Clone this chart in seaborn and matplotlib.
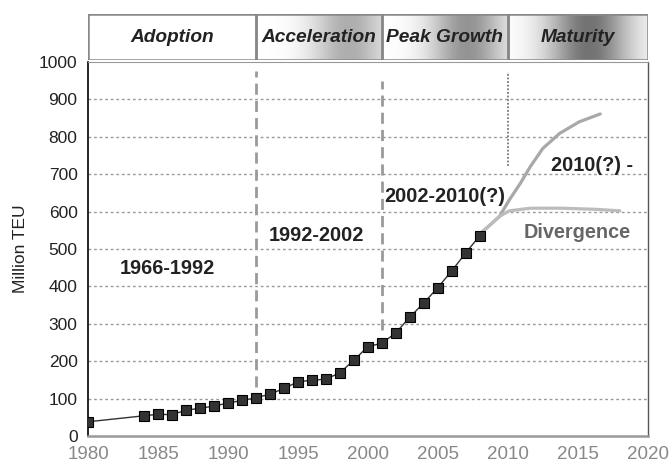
import numpy as np
import pandas as pd
import matplotlib
matplotlib.use("Agg")
import matplotlib.pyplot as plt
import seaborn as sns

# container throughput, million TEU
years = [1980, 1984, 1985, 1986, 1987, 1988, 1989, 1990, 1991, 1992, 1993, 1994,
         1995, 1996, 1997, 1998, 1999, 2000, 2001, 2002, 2003, 2004, 2005, 2006,
         2007, 2008]
teu = [38, 54, 58, 57, 69, 74, 80, 88, 95, 102, 112, 127,
       145, 149, 152, 169, 203, 239, 248, 276, 318, 356, 397, 442,
       490, 536]

# projected paths after 2008
high_years = [2008, 2009.4, 2010.1, 2010.9, 2011.6, 2012.5, 2013.7, 2015.1, 2016.6]
high_teu = [540, 587, 631, 676, 720, 769, 809, 840, 861]
low_years = [2008, 2009.4, 2010.1, 2011.6, 2013.9, 2016.3, 2018]
low_teu = [540, 587, 602, 609, 609, 606, 602]

phases = ["Adoption", "Acceleration", "Peak Growth", "Maturity"]
phase_edges = [1980, 1992, 2001, 2010, 2020]
phase_dark = [1.0, 0.68, 0.58, 0.45]   # darkest grey inside each header box
phase_peak = [0.5, 0.74, 0.68, 0.58]   # where the darkest grey sits

periods = ["1966-1992", "1992-2002", "2002-2010(?)", "2010(?) -", "Divergence"]
period_x = [1982.3, 1992.9, 2001.2, 2013.1, 2011.1]
period_y = [449, 535, 640, 722, 543]
period_col = ["#222222", "#222222", "#222222", "#222222", "#666666"]

sns.set_style("white")
plt.rcParams['font.family'] = ['Liberation Sans', 'DejaVu Sans']

fig = plt.figure(figsize=(6.72, 4.66), dpi=100)
ax = fig.add_axes([0.131, 0.0644, 0.833, 0.8026])
hx = fig.add_axes([0.131, 0.871, 0.833, 0.099])

df = pd.DataFrame({"year": years, "teu": teu})
sns.lineplot(x=high_years, y=high_teu, ax=ax, color="#a8a8a8", lw=2.3, zorder=3)
sns.lineplot(x=low_years, y=low_teu, ax=ax, color="#bcbcbc", lw=2.3, zorder=3)
sns.lineplot(data=df, x="year", y="teu", ax=ax, color="#333333", lw=1,
             marker="s", markersize=6.5, markerfacecolor="#333333",
             markeredgecolor="black", markeredgewidth=0.8, zorder=5)

# phase boundaries
ax.vlines(1992, 130, 975, color="#9a9a9a", lw=2, linestyles=(0, (4, 2.2)), zorder=2)
ax.vlines(2001, 283, 950, color="#9a9a9a", lw=2, linestyles=(0, (4, 2.2)), zorder=2)
ax.vlines(2010, 722, 972, color="#777777", lw=1.3, linestyles=(0, (1, 1)), zorder=2)

for gy in range(100, 1000, 100):
    ax.axhline(gy, color="#9a9a9a", lw=1, ls=(0, (2, 2)), zorder=1)

for t, x, y, c in zip(periods, period_x, period_y, period_col):
    ax.text(x, y, t, fontsize=14.3, fontweight="bold", color=c, va="center", ha="left")

ax.set_xlim(1980, 2020)
ax.set_ylim(0, 1000)
ax.set_xticks(range(1980, 2021, 5))
ax.set_yticks(range(0, 1001, 100))
ax.set_xlabel("")
ax.set_ylabel("Million TEU", fontsize=12.5, color="#222222", labelpad=8)
ax.tick_params(axis="y", labelsize=12.5, colors="#222222", direction="out", length=4, width=1)
ax.tick_params(axis="x", labelsize=13.5, labelcolor="#888888", color="#555555",
               direction="out", length=4, width=1.2)
ax.spines["left"].set_color("black")
ax.spines["left"].set_linewidth(1.2)
ax.spines["bottom"].set_color("#999999")
ax.spines["bottom"].set_linewidth(1.8)
ax.spines["right"].set_color("#555555")
ax.spines["right"].set_linewidth(1)
ax.spines["top"].set_color("#999999")
ax.spines["top"].set_linestyle((0, (2, 1)))

# header boxes with grey shading
hx.set_xlim(1980, 2020)
hx.set_ylim(0, 1)
hx.axis("off")
for name, x0, x1, dark, peak in zip(phases, phase_edges[:-1], phase_edges[1:], phase_dark, phase_peak):
    u = np.linspace(0, 1, 200)
    shade = 1 - (1 - dark) * np.exp(-((u - peak) / 0.3) ** 2)
    if name == "Adoption":
        shade = np.ones_like(u)
    hx.imshow(shade[None, :], cmap="gray", vmin=0, vmax=1, aspect="auto",
              extent=[x0, x1, 0, 1], interpolation="bilinear")
    hx.add_patch(plt.Rectangle((x0, 0), x1 - x0, 1, fill=False, ec="#888888", lw=1.8))
    hx.text((x0 + x1) / 2, 0.5, name, fontsize=13.8, fontweight="bold", style="italic",
            color="#222222", ha="center", va="center")
hx.set_xlim(1980, 2020)
hx.set_ylim(0, 1)

fig.savefig("out.png", dpi=100)
